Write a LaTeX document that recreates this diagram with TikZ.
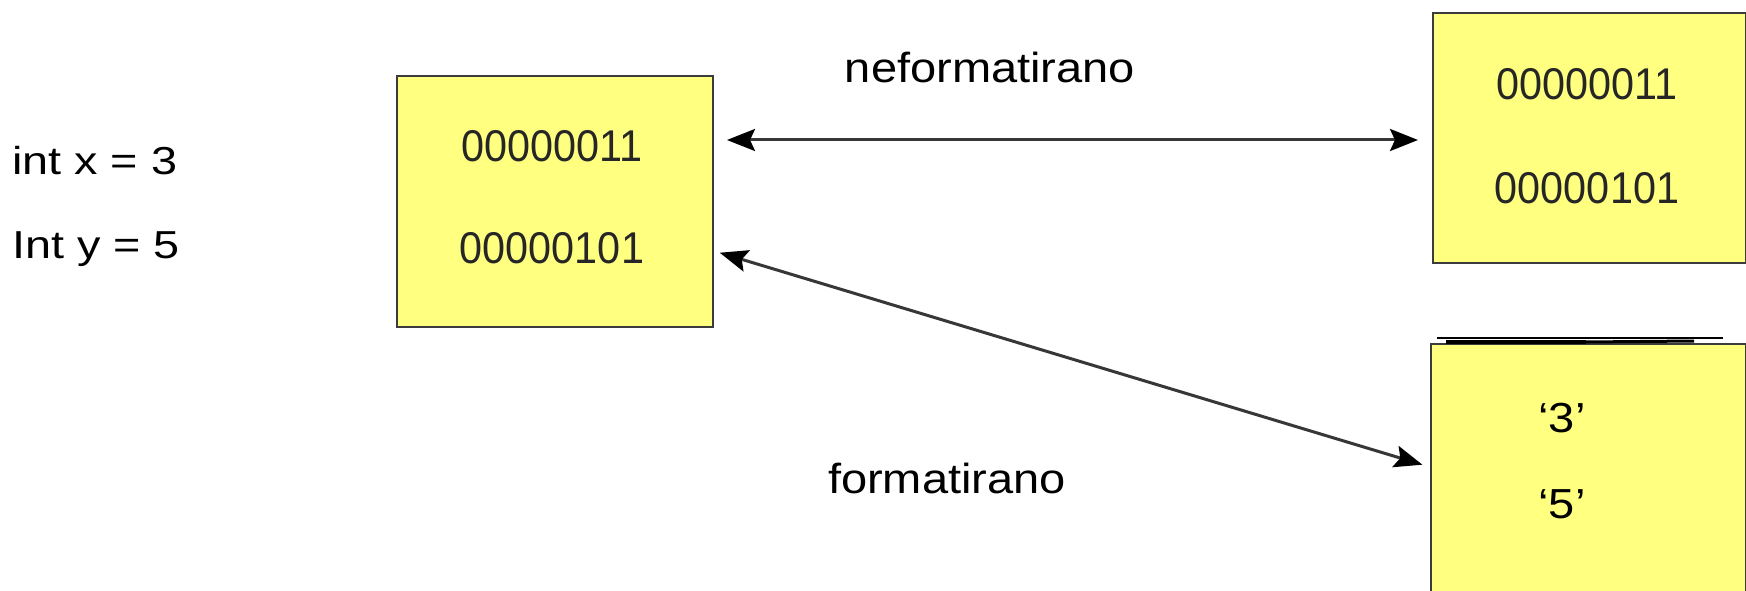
\documentclass[tikz,border=0pt]{standalone}
\usepackage{fontspec}
\setmainfont{Liberation Sans}
\newfontfamily\binfont[FakeStretch=0.93]{Liberation Sans}
\newfontfamily\intfont[FakeStretch=1.2]{Liberation Sans}
\newfontfamily\lblfont[FakeStretch=1.12]{Liberation Sans}
\newfontfamily\chrfont[FakeStretch=1.12]{Liberation Sans}
\usetikzlibrary{arrows.meta}
\definecolor{boxyellow}{RGB}{255,255,128}
\definecolor{boxline}{RGB}{60,60,60}
\definecolor{arrline}{RGB}{55,55,55}
\begin{document}
\begin{tikzpicture}[x=1pt,y=-1pt,
  memory/.style={draw=boxline, line width=2pt, fill=boxyellow, anchor=north west, inner sep=0pt},
  bintext/.style={font=\binfont\fontsize{44.5}{50}\selectfont, text=black!85, anchor=base, inner sep=0pt},
  inttext/.style={font=\intfont\fontsize{39}{44}\selectfont, anchor=base west, inner sep=0pt},
  lbltext/.style={font=\lblfont\fontsize{42}{48}\selectfont, anchor=base, inner sep=0pt},
  chrtext/.style={font=\chrfont\fontsize{42}{48}\selectfont, anchor=base, inner sep=0pt},
  biarrow/.style={{Stealth[length=28pt,width=22pt,inset=5pt,color=black]}-{Stealth[length=28pt,width=22pt,inset=5pt,color=black]}, line width=3pt, draw=arrline},
  mark line/.style={draw=black, line cap=butt}
]
\useasboundingbox[fill=white] (0,0) rectangle (1746,591);

% memory boxes
\node[memory, minimum width=316pt, minimum height=251pt] (A) at (396,75) {};
\node[memory, minimum width=313pt, minimum height=250pt] (B) at (1432,12) {};
\node[memory, minimum width=315pt, minimum height=260pt] (C) at (1430,343) {};

% stray lines on top of box C
\coordinate (c1) at (1437,338);
\coordinate (c2) at (1723,338);
\coordinate (c3) at (1446,342);
\coordinate (c4) at (1586,342);
\coordinate (c5) at (1694,341);
\draw[mark line, line width=2pt] (c1) -- (c2);
\draw[mark line, line width=4pt] (c3) -- (c4);
\draw[mark line, line width=3pt] (c4) -- (c5);

% texts in boxes
\node[bintext] (a1) at (552,162) {00000011};
\node[bintext] (a2) at (552,263) {00000101};
\node[bintext] (b1) at (1587,100) {00000011};
\node[bintext] (b2) at (1587,203) {00000101};
\node[chrtext] (c3t) at (1562,432) {‘3’};
\node[chrtext] (c5t) at (1562,518) {‘5’};

% declarations
\node[inttext] (ix) at (12,175) {int x = 3};
\node[inttext] (iy) at (12,258) {Int y = 5};

% labels
\node[lbltext] (nf) at (990,83) {neformatirano};
\node[lbltext] (fm) at (947,493) {formatirano};

% connectors
\draw[biarrow, shorten <=13pt, shorten >=14pt] (A.east |- 0,140) -- (B.west |- 0,140);
\draw[biarrow, shorten <=6pt, shorten >=8pt] (A.east |- 0,251) -- (C.west |- 0,467);
\end{tikzpicture}
\end{document}
